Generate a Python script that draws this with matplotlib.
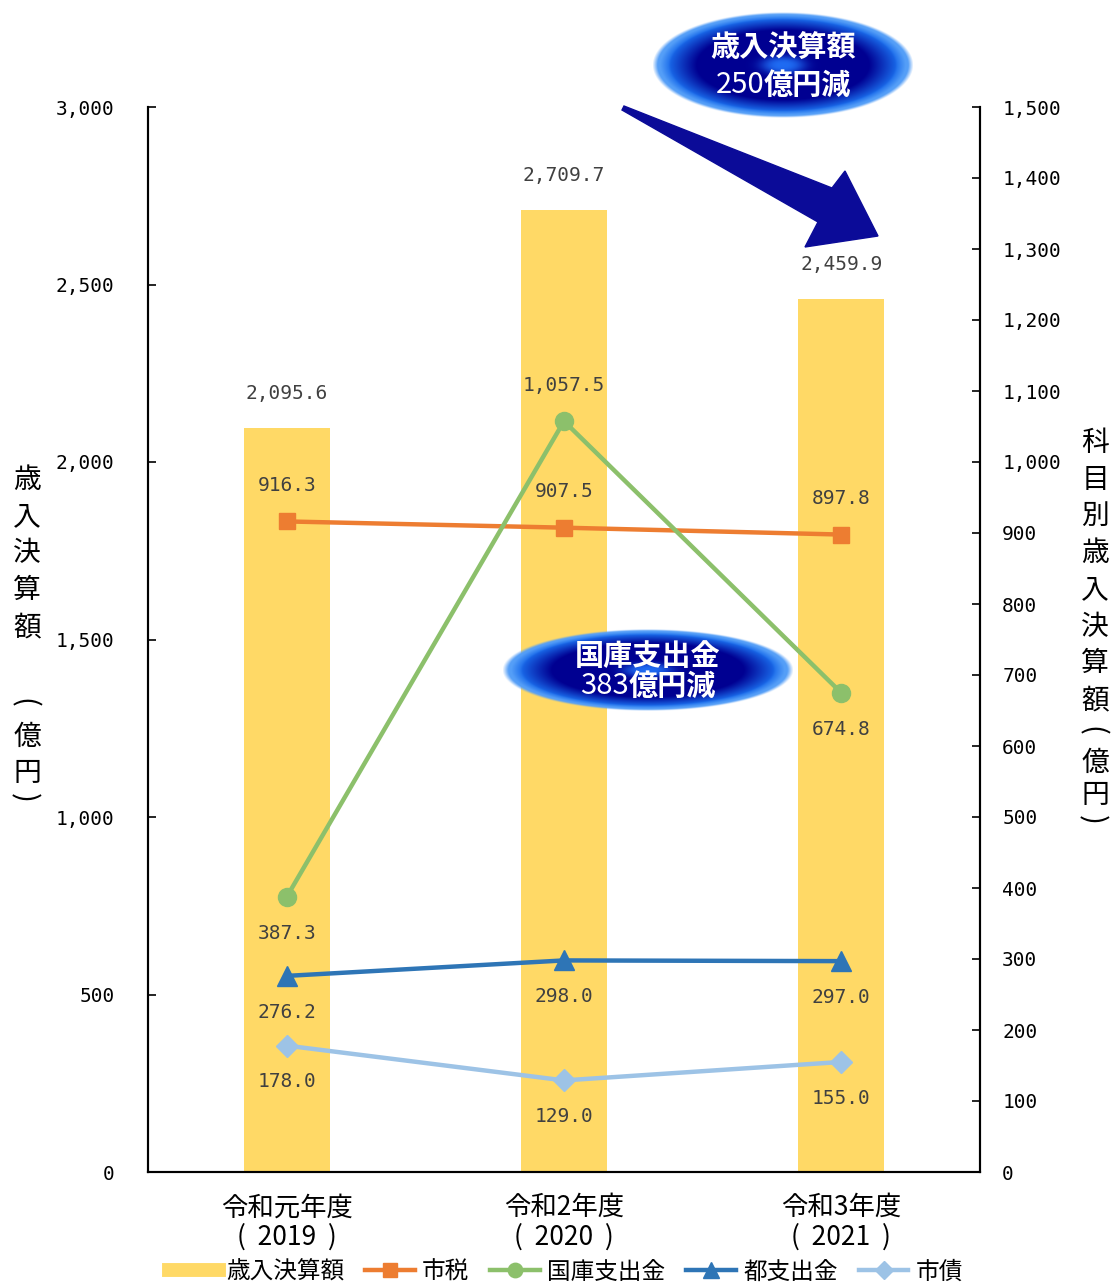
import numpy as np
import matplotlib
matplotlib.use("Agg")
import matplotlib.pyplot as plt
from matplotlib.lines import Line2D
from matplotlib.patches import Polygon

plt.rcParams['font.family'] = ['Noto Sans CJK JP', 'DejaVu Sans']

# ---- data ----
years = ['令和元年度\n(  2019  )', '令和2年度\n(  2020  )', '令和3年度\n(  2021  )']
total = [2095.6, 2709.7, 2459.9]          # 歳入決算額 (left axis)
city_tax = [916.3, 907.5, 897.8]          # 市税
national = [387.3, 1057.5, 674.8]         # 国庫支出金
metro = [276.2, 298.0, 297.0]             # 都支出金
bonds = [178.0, 129.0, 155.0]             # 市債

W, H = 1114, 1283
fig = plt.figure(figsize=(W / 100, H / 100), dpi=100)
ax = fig.add_axes([148 / W, 1 - 1172 / H, (980 - 148) / W, (1172 - 107) / H])
ax2 = ax.twinx()

x = np.arange(len(years))
BAR = '#FFD966'
GRAY = '#404040'
MONO = 'DejaVu Sans Mono'
ax.bar(x, total, width=0.31, color=BAR, zorder=1)
ax.set_xlim(-0.5, 2.5)
ax.set_ylim(0, 3000)
ax2.set_ylim(0, 1500)

for xi, v in zip(x, total):
    ax.annotate(f'{v:,.1f}', (xi, v), xytext=(0, 18), textcoords='offset points',
                ha='center', va='bottom', fontsize=14, color=GRAY, family=MONO)

series = [
    ('市税', city_tax, '#ED7D31', 's', 12, [1, 1, 1]),
    ('国庫支出金', national, '#8CC06B', 'o', 13, [-1, 1, -1]),
    ('都支出金', metro, '#2E75B6', '^', 14, [-1, -1, -1]),
    ('市債', bonds, '#9DC3E6', 'D', 11, [-1, -1, -1]),
]
for name, vals, col, mk, ms, sides in series:
    ax2.plot(x, vals, color=col, lw=3.2, marker=mk, markersize=ms, zorder=3)
    for xi, v, s in zip(x, vals, sides):
        ax2.annotate(f'{v:,.1f}', (xi, v), xytext=(0, 26 * s), textcoords='offset points',
                     ha='center', va='center', fontsize=14, color=GRAY, family=MONO)

# ---- axes styling ----
ax.spines['top'].set_visible(False)
ax2.spines['top'].set_visible(False)
for a in (ax, ax2):
    for sp in a.spines.values():
        sp.set_color('black')
        sp.set_linewidth(1.5)
ax.set_yticks(np.arange(0, 3001, 500))
ax.set_yticklabels([f'{v:,}' for v in range(0, 3001, 500)], family=MONO)
ax2.set_yticks(np.arange(0, 1501, 100))
ax2.set_yticklabels([f'{v:,}' for v in range(0, 1501, 100)], family=MONO)
ax.tick_params(axis='y', direction='in', length=6, width=1.2, labelsize=14, pad=24)
ax2.tick_params(axis='y', direction='in', length=6, width=1.2, labelsize=14, pad=16)
ax.set_xticks(x)
ax.set_xticklabels(years, fontsize=19, linespacing=1.1)
ax.tick_params(axis='x', length=0, pad=16)


def vertical_label(xc, chars, ys):
    # stacked characters; brackets are turned to lie across the column
    for ch, y in zip(chars, ys):
        if ch in '()':
            fig.text((xc - 4) / W, 1 - y / H, ch, ha='center', va='center',
                     fontsize=21, rotation=-90, rotation_mode='anchor')
        else:
            fig.text(xc / W, 1 - y / H, ch, ha='center', va='center', fontsize=20)


vertical_label(27, '歳入決算額(億円)', [480, 517, 553, 590, 627, 703, 737, 773, 798])
vertical_label(1095, '科目別歳入決算額(億円)',
               [443, 480, 516, 553, 590, 627, 663, 700, 731, 763, 795, 820])

# ---- legend ----
handles = [Line2D([], [], color=BAR, lw=10)]
labels = ['歳入決算額']
for name, vals, col, mk, ms, sides in series:
    handles.append(Line2D([], [], color=col, lw=3.2, marker=mk, markersize=ms * 0.8))
    labels.append(name)
fig.legend(handles, labels, loc='center', bbox_to_anchor=(566 / W, 1 - 1272 / H),
           ncol=5, frameon=False, fontsize=17, handlelength=2.1,
           columnspacing=0.9, handletextpad=0.3)

# ---- callout badges and arrow ----
ov = fig.add_axes([0, 0, 1, 1], zorder=10)
ov.axis('off')


def badge(cx, cy, w, h, line1, num, unit, fs):
    n = 260
    gx, gy = np.meshgrid(np.linspace(-1, 1, n), np.linspace(-1, 1, n))
    r = np.sqrt(gx ** 2 + gy ** 2)
    navy = np.array([0.0, 0.0, 0.57])
    blue = np.array([0.10, 0.42, 0.92])
    light = np.array([0.33, 0.62, 0.97])
    t = np.clip((r - 0.66) / 0.22, 0, 1)[..., None]
    rgb = navy * (1 - t) + blue * t
    t2 = np.clip((r - 0.86) / 0.08, 0, 1)[..., None]
    rgb = rgb * (1 - t2) + light * t2
    blob = np.exp(-((gx / 0.17) ** 2 + (gy / 0.17) ** 2) ** 1.5)[..., None]
    rgb = rgb * (1 - blob) + np.array([0.12, 0.42, 0.95]) * blob
    alpha = np.clip((1.0 - r) / 0.04, 0, 1)
    img = np.dstack([rgb, alpha])
    ov.imshow(img, extent=(cx - w / 2, cx + w / 2, cy + h / 2, cy - h / 2),
              origin='upper', aspect='auto', interpolation='bilinear', zorder=2)
    ov.text(cx, cy - h * 0.17, line1, ha='center', va='center', color='white',
            fontsize=fs, fontweight='bold', zorder=3)
    t_num = ov.text(cx - 19, cy + h * 0.19, num, ha='right', va='center',
                    color='white', fontsize=fs, zorder=3)
    ov.annotate(unit, xy=(1, 0.5), xycoords=t_num, ha='left', va='center',
                color='white', fontsize=fs, fontweight='bold', zorder=3)


arrow = Polygon([(624, 106), (832, 188), (845, 171), (878, 236), (805, 247),
                 (818, 222), (622, 110)], closed=True, facecolor='#0B0B98',
                edgecolor='#0B0B98', lw=1, zorder=1)
ov.add_patch(arrow)
badge(783, 65, 262, 106, '歳入決算額', '250', '億円減', 21)
badge(648, 670, 292, 82, '国庫支出金', '383', '億円減', 21)
ov.set_xlim(0, W)
ov.set_ylim(H, 0)

fig.savefig('out.png', dpi=100)
